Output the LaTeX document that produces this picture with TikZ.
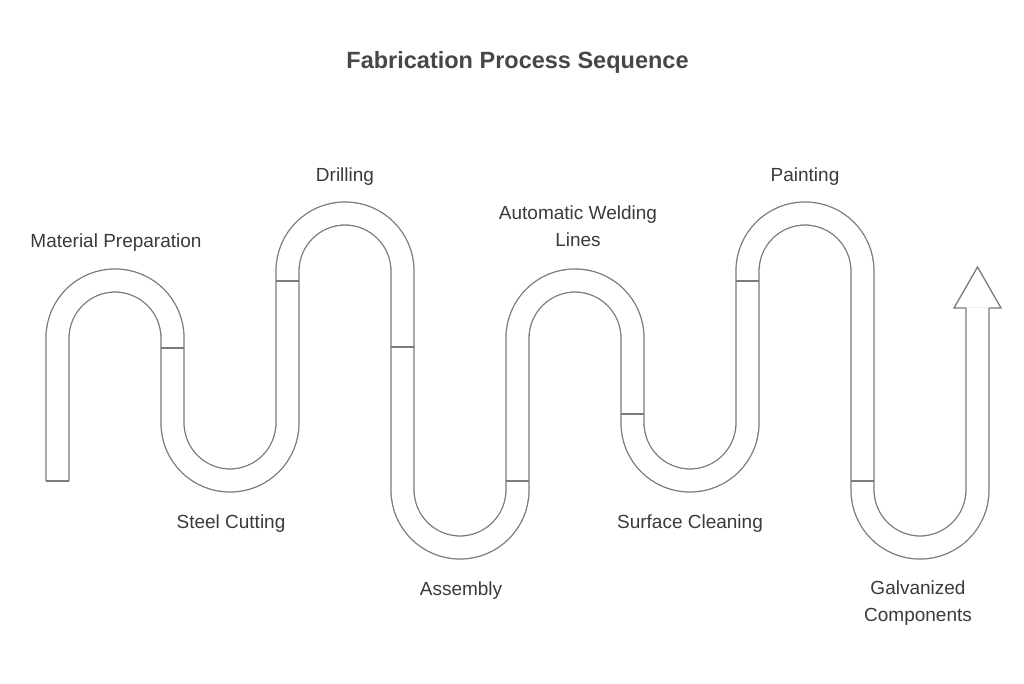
\documentclass[tikz,border=0pt]{standalone}
\usepackage{fontspec}
\setmainfont{Liberation Sans}
\definecolor{tubeline}{HTML}{7A7A7A}
\definecolor{labeltext}{HTML}{3A3A3A}
\definecolor{titletext}{HTML}{474747}
\begin{document}
\begin{tikzpicture}[x=1pt,y=1pt,
  tube/.style={draw=tubeline, line width=1.3pt, double=white, double distance=21.7pt},
  edge/.style={draw=tubeline, line width=1.3pt},
  lbl/.style={inner sep=0pt, text=labeltext, font=\fontsize{19}{27}\selectfont, align=center},
  ttl/.style={inner sep=0pt, text=titletext, font=\fontsize{23.5}{28}\selectfont\bfseries}]
\useasboundingbox (0,0) rectangle (1024,683);
% serpentine band
\draw[tube] (57.5,202) -- (57.5,345) arc[start angle=180, end angle=0, radius=57.5]
  -- (172.5,260) arc[start angle=180, end angle=360, radius=57.5]
  -- (287.5,412) arc[start angle=180, end angle=0, radius=57.5]
  -- (402.5,193) arc[start angle=180, end angle=360, radius=57.5]
  -- (517.5,345) arc[start angle=180, end angle=0, radius=57.5]
  -- (632.5,260) arc[start angle=180, end angle=360, radius=57.5]
  -- (747.5,412) arc[start angle=180, end angle=0, radius=57.5]
  -- (862.5,193) arc[start angle=180, end angle=360, radius=57.5]
  -- (977.5,375);
% start cap
\draw[edge] (46,202) -- (69,202);
% arrow head
\draw[edge, line join=miter] (966,375) -- (954,375) -- (977.5,416) -- (1001,375) -- (989,375);
% dividers between steps
\draw[edge] (161,335) -- (184,335);
\draw[edge] (276,402) -- (299,402);
\draw[edge] (391,336) -- (414,336);
\draw[edge] (506,202) -- (529,202);
\draw[edge] (621,269) -- (644,269);
\draw[edge] (736,402) -- (759,402);
\draw[edge] (851,202) -- (874,202);
% labels
\node[ttl, anchor=base] (title) at (517.5,614.5) {Fabrication Process Sequence};
\node[lbl, anchor=base] (matprep) at (116,435) {Material Preparation};
\node[lbl, anchor=base] (drill) at (345,501) {Drilling};
\node[lbl, anchor=center] (weld) at (578,456.5) {Automatic Welding\\Lines};
\node[lbl, anchor=base] (paint) at (805,501) {Painting};
\node[lbl, anchor=base] (cut) at (231,155) {Steel Cutting};
\node[lbl, anchor=base] (assy) at (461,88) {Assembly};
\node[lbl, anchor=base] (clean) at (690,155) {Surface Cleaning};
\node[lbl, anchor=center] (galv) at (918,79.5) {Galvanized\\Components};
\end{tikzpicture}
\end{document}
